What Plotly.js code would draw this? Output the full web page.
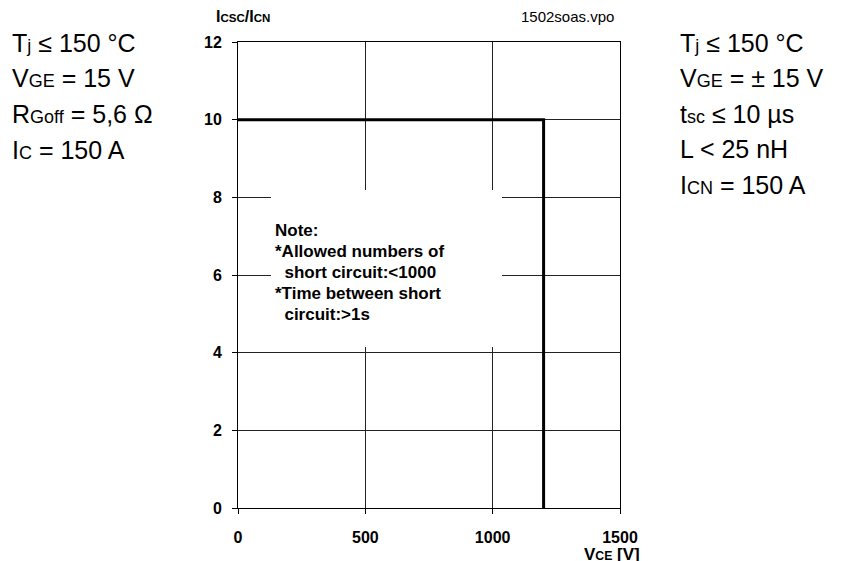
<!DOCTYPE html>
<html>
<head>
<meta charset="utf-8">
<script src="https://cdn.plot.ly/plotly-3.0.1.min.js"></script>
<style>html,body{margin:0;padding:0;background:#fff;}#chart{width:847px;height:561px;}</style>
</head>
<body>
<div id="chart"></div>
<script>
// ---- data ----
var vce = [0, 1200, 1200];          // V
var icscRatio = [10, 10, 0];        // Icsc / Icn
var xTicks = [0, 500, 1000, 1500];
var xTickLabels = ['0', '500', '1000', '1500'];
var yTicks = [0, 2, 4, 6, 8, 10, 12];
var yTickLabels = ['0', '2', '4', '6', '8', '10', '12'];
function sb(s) { return '<span style="font-size:72%">' + s + '</span>'; }
var leftConditions = ['T' + sb('j') + ' ≤ 150 °C', 'V' + sb('GE') + ' = 15 V', 'R' + sb('Goff') + ' = 5,6 Ω', 'I' + sb('C') + ' = 150 A'];
var rightConditions = ['T' + sb('j') + ' ≤ 150 °C', 'V' + sb('GE') + ' = ± 15 V', 't' + sb('sc') + ' ≤ 10 µs', 'L &lt; 25 nH', 'I' + sb('CN') + ' = 150 A'];
var noteLines = ['Note:', '*Allowed numbers of', '\u00A0\u00A0short circuit:&lt;1000', '*Time between short', '\u00A0\u00A0circuit:&gt;1s'];
var yTitle = 'I' + sb('CSC') + '/I' + sb('CN');
var xTitle = 'V' + sb('CE') + ' [V]';
var fileTag = '1502soas.vpo';

// ---- layout helpers ----
var W = 847, H = 561;
var L = 238, R = 227, T = 42, B = 53;
var pw = W - L - R, ph = H - T - B;
function px(x) { return (x - L) / pw; }
function py(y) { return (H - B - y) / ph; }
var FONT = 'Liberation Sans, Arial, Helvetica, sans-serif';

var annotations = [];
leftConditions.forEach(function (t, i) {
  annotations.push({text: t, xref: 'paper', yref: 'paper', x: px(10), y: py(43 + i * 35.5),
    xanchor: 'left', yanchor: 'middle', showarrow: false, align: 'left',
    font: {family: FONT, size: 25, color: '#000'}});
});
rightConditions.forEach(function (t, i) {
  annotations.push({text: t, xref: 'paper', yref: 'paper', x: px(678), y: py(43 + i * 35.4),
    xanchor: 'left', yanchor: 'middle', showarrow: false, align: 'left',
    font: {family: FONT, size: 25, color: '#000'}});
});
noteLines.forEach(function (t, i) {
  annotations.push({text: t, xref: 'paper', yref: 'paper', x: px(273), y: py(230 + i * 21.2),
    xanchor: 'left', yanchor: 'middle', showarrow: false, align: 'left',
    font: {family: FONT, size: 17, color: '#000', weight: 'bold'}});
});
annotations.push({text: yTitle, xref: 'paper', yref: 'paper', x: px(214), y: py(17),
  xanchor: 'left', yanchor: 'middle', showarrow: false,
  font: {family: FONT, size: 16, color: '#000', weight: 'bold'}});
annotations.push({text: fileTag, xref: 'paper', yref: 'paper', x: px(567), y: py(17),
  xanchor: 'center', yanchor: 'middle', showarrow: false,
  font: {family: FONT, size: 15, color: '#000'}});
annotations.push({text: xTitle, xref: 'paper', yref: 'paper', x: px(642), y: py(543),
  xanchor: 'right', yanchor: 'top', showarrow: false,
  font: {family: FONT, size: 17, color: '#000', weight: 'bold'}});

var trace = {
  x: vce, y: icscRatio, type: 'scatter', mode: 'lines',
  line: {color: '#000', width: 3}, hoverinfo: 'skip'
};

var axisCommon = {
  showline: true, linecolor: '#000', linewidth: 1, mirror: true,
  showgrid: true, gridcolor: '#222', gridwidth: 1, zeroline: false,
  ticks: 'outside', ticklen: 5, tickcolor: '#000', tickwidth: 1,
  tickmode: 'array', fixedrange: true,
  tickfont: {family: FONT, size: 16, color: '#000', weight: 'bold'}
};

var layout = {
  width: W, height: H,
  margin: {l: L, r: R, t: T, b: B, pad: 0},
  paper_bgcolor: '#fff', plot_bgcolor: '#fff',
  showlegend: false,
  xaxis: Object.assign({}, axisCommon, {range: [0, 1500], tickvals: xTicks, ticktext: xTickLabels, ticklabelstandoff: 10}),
  yaxis: Object.assign({}, axisCommon, {range: [0, 12], tickvals: yTicks, ticktext: yTickLabels, ticklabelstandoff: 7}),
  shapes: [{type: 'rect', xref: 'paper', yref: 'paper', x0: px(271), x1: px(502), y0: py(347), y1: py(190),
    fillcolor: '#fff', line: {width: 0}, layer: 'above'}],
  annotations: annotations
};

Plotly.newPlot('chart', [trace], layout, {staticPlot: true, displayModeBar: false});
</script>
</body>
</html>
